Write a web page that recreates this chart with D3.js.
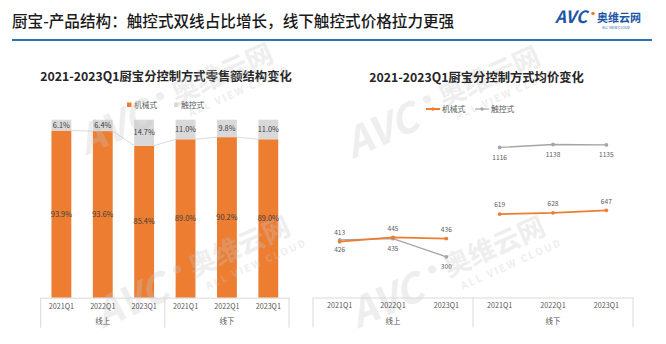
<!DOCTYPE html>
<html>
<head>
<meta charset="utf-8">
<script src="https://cdn.jsdelivr.net/npm/d3@7/dist/d3.min.js"></script>
<style>
  html, body { margin: 0; padding: 0; background: #fff; }
  svg { display: block; }
  text { font-family: "Noto Sans CJK SC", "Noto Sans", sans-serif; }
</style>
</head>
<body>
<svg id="chart" width="666" height="344"></svg>
<script>
// ---- data ----
const groups = ["线上", "线下"];
const periods = ["2021Q1", "2022Q1", "2023Q1"];
const seriesNames = ["机械式", "触控式"];

// retail sales share (%) by control type, online then offline
const shareMech  = [93.9, 93.6, 85.4, 89.0, 90.2, 89.0];
const shareTouch = [6.1, 6.4, 14.7, 11.0, 9.8, 11.0];

// average price (yuan) by control type, online then offline
const priceMech  = [413, 445, 436, 619, 628, 647];
const priceTouch = [426, 435, 300, 1116, 1138, 1135];

const orange = "#ed7d31";
const grey = "#d9d9d9";
const greyLine = "#a5a5a5";
const textDark = "#404040";
const textAxis = "#595959";

const cats = [];
groups.forEach(g => periods.forEach(p => cats.push({ key: g + "|" + p, group: g, period: p })));
const keys = cats.map(c => c.key);

const svg = d3.select("#chart");

// ---- faint brand watermark tiles ----
function watermark(ox, oy) {
  const g = svg.append("g")
    .attr("transform", `translate(${ox},${oy}) rotate(-24)`)
    .attr("fill", "#c8c8c8").attr("opacity", 0.3).attr("pointer-events", "none");
  g.append("text").attr("x", 0).attr("y", 14)
    .attr("font-family", "Liberation Sans, Arial, sans-serif")
    .attr("font-size", 40).attr("font-weight", 700).attr("font-style", "italic").text("AVC");
  g.append("circle").attr("cx", 92).attr("cy", -10).attr("r", 4);
  g.append("text").attr("x", 104).attr("y", 4)
    .attr("font-size", 27).attr("font-weight", 700).text("奥维云网");
  g.append("text").attr("x", 112).attr("y", 21)
    .attr("font-family", "Liberation Sans, Arial, sans-serif")
    .attr("font-size", 10).attr("font-weight", 700).attr("letter-spacing", 2).text("ALL VIEW CLOUD");
  return g;
}

// ---- page header ----
svg.append("text")
  .attr("x", 12).attr("y", 27)
  .attr("font-size", 15.6).attr("font-weight", 500).attr("fill", "#1a1a1a")
  .text("厨宝-产品结构：触控式双线占比增长，线下触控式价格拉力更强");

svg.append("line")
  .attr("x1", 12).attr("x2", 652).attr("y1", 40).attr("y2", 40)
  .attr("stroke", "#2f75b5").attr("stroke-width", 2);

// brand mark
const logo = svg.append("g");
logo.append("text").attr("x", 555).attr("y", 23)
  .attr("font-family", "Liberation Sans, Arial, sans-serif")
  .attr("font-size", 17).attr("font-weight", 700).attr("font-style", "italic")
  .attr("fill", "#1d56a5").text("AVC");
logo.append("circle").attr("cx", 593).attr("cy", 13.5).attr("r", 1.8).attr("fill", orange);
logo.append("text").attr("x", 597).attr("y", 22)
  .attr("font-size", 11).attr("font-weight", 700).attr("fill", "#1d56a5").text("奥维云网");
logo.append("text").attr("x", 602).attr("y", 28.5)
  .attr("font-family", "Liberation Sans, Arial, sans-serif")
  .attr("font-size", 3.6).attr("fill", "#1d56a5").text("ALL VIEW CLOUD");

// ---- helper: category axis with group dividers ----
function categoryAxis(x, y0, catY, groupY) {
  const g = svg.append("g").attr("transform", `translate(0,${y0})`);
  const ax = d3.axisBottom(x).tickSize(0).tickPadding(0).tickFormat(k => k.split("|")[1]);
  g.call(ax);
  g.select(".domain").attr("stroke", "#d9d9d9").attr("stroke-width", 1);
  g.selectAll(".tick text")
    .attr("y", catY).attr("dy", "0.35em")
    .attr("font-family", "Liberation Sans, Arial, sans-serif")
    .attr("font-size", 7.2).attr("fill", textAxis);
  const [r0] = x.range();
  const dividers = [r0];
  groups.forEach(gr => {
    const last = x(gr + "|" + periods[periods.length - 1]) + x.step() - x.step() * x.paddingInner() / 2;
    dividers.push(last);
  });
  g.selectAll("line.div").data(dividers).join("line").attr("class", "div")
    .attr("x1", d => d).attr("x2", d => d).attr("y1", 0).attr("y2", 30)
    .attr("stroke", "#d9d9d9").attr("stroke-width", 1);
  groups.forEach(gr => {
    const a = x(gr + "|" + periods[0]);
    const b = x(gr + "|" + periods[periods.length - 1]) + x.bandwidth();
    g.append("text").attr("x", (a + b) / 2).attr("y", groupY).attr("dy", "0.35em")
      .attr("text-anchor", "middle").attr("font-size", 7.5).attr("fill", textAxis).text(gr);
  });
}

// ---- left: stacked share bars ----
const xL = d3.scaleBand().domain(keys).range([40.7, 289]).paddingInner(0.52).paddingOuter(0.26);
const yL = d3.scaleLinear().domain([0, 100]).range([297.7, 119.7]);

svg.append("text").attr("x", 166).attr("y", 77).attr("dy", "0.35em")
  .attr("text-anchor", "middle").attr("font-size", 12.3).attr("font-weight", 700).attr("fill", "#262626")
  .text("2021-2023Q1厨宝分控制方式零售额结构变化");

// legend
const legL = svg.append("g");
[[seriesNames[0], orange, 127], [seriesNames[1], grey, 174]].forEach(([name, col, lx]) => {
  legL.append("rect").attr("x", lx).attr("y", 102.5).attr("width", 4.5).attr("height", 4.5).attr("fill", col);
  legL.append("text").attr("x", lx + 7).attr("y", 105).attr("dy", "0.35em")
    .attr("font-size", 7.8).attr("fill", textAxis).text(name);
});

const stackData = keys.map((k, i) => ({ key: k, mech: shareMech[i], touch: shareTouch[i] }));
const stacked = d3.stack().keys(["mech", "touch"])(stackData);

// series lines between orange tops
const seriesLine = svg.append("g");
for (let i = 0; i < keys.length - 1; i++) {
  seriesLine.append("line")
    .attr("x1", xL(keys[i]) + xL.bandwidth()).attr("y1", yL(shareMech[i]))
    .attr("x2", xL(keys[i + 1])).attr("y2", yL(shareMech[i + 1]))
    .attr("stroke", "#d0d0d0").attr("stroke-width", 0.8);
}

const colors = { mech: orange, touch: grey };
stacked.forEach(layer => {
  svg.append("g").selectAll("rect").data(layer).join("rect")
    .attr("x", d => xL(d.data.key)).attr("width", xL.bandwidth())
    .attr("y", d => yL(Math.min(d[1], 100))).attr("height", d => yL(d[0]) - yL(Math.min(d[1], 100)))
    .attr("fill", colors[layer.key]);
});

// watermark tiles sit over the bars, under the text
[[80, 143], [347, 146], [97, 316], [352, 316]].forEach(([x, y]) => watermark(x, y));

stacked.forEach(layer => {
  svg.append("g").selectAll("text").data(layer).join("text")
    .attr("x", d => xL(d.data.key) + xL.bandwidth() / 2)
    .attr("y", d => (yL(d[0]) + yL(Math.min(d[1], 100))) / 2).attr("dy", "0.35em")
    .attr("text-anchor", "middle")
    .attr("font-family", "DejaVu Sans Mono, monospace")
    .attr("font-size", 7.4).attr("fill", textDark)
    .text(d => d.data[layer.key].toFixed(1) + "%");
});

categoryAxis(xL, 297.7, 9, 24);

// ---- right: average price lines ----
const xR = d3.scaleBand().domain(keys).range([313, 633]);
const yR = d3.scaleLinear().domain([0, 1400]).range([297, 109.4]);
const cx = k => xR(k) + xR.bandwidth() / 2;

svg.append("text").attr("x", 476.5).attr("y", 78).attr("dy", "0.35em")
  .attr("text-anchor", "middle").attr("font-size", 12.3).attr("font-weight", 700).attr("fill", "#262626")
  .text("2021-2023Q1厨宝分控制方式均价变化");

const legR = svg.append("g");
[[seriesNames[0], orange, 426, 2], [seriesNames[1], greyLine, 475, 1.2]].forEach(([name, col, lx, w]) => {
  legR.append("line").attr("x1", lx).attr("x2", lx + 14).attr("y1", 109).attr("y2", 109)
    .attr("stroke", col).attr("stroke-width", w);
  legR.append("circle").attr("cx", lx + 7).attr("cy", 109).attr("r", 1.7).attr("fill", col);
  legR.append("text").attr("x", lx + 16).attr("y", 109).attr("dy", "0.35em")
    .attr("font-size", 7.8).attr("fill", textAxis).text(name);
});

const line = d3.line().x(d => cx(d.key)).y(d => yR(d.v));
function drawSeries(vals, col, width, labelDy) {
  groups.forEach((gr, gi) => {
    const pts = periods.map((p, pi) => ({ key: gr + "|" + p, v: vals[gi * periods.length + pi] }));
    const g = svg.append("g");
    g.append("path").datum(pts).attr("d", line)
      .attr("fill", "none").attr("stroke", col).attr("stroke-width", width);
    g.selectAll("circle").data(pts).join("circle")
      .attr("cx", d => cx(d.key)).attr("cy", d => yR(d.v)).attr("r", 1.9).attr("fill", col);
    g.selectAll("text").data(pts).join("text")
      .attr("x", d => cx(d.key)).attr("y", d => yR(d.v) + labelDy).attr("dy", "0.35em")
      .attr("text-anchor", "middle")
      .attr("font-family", "Liberation Sans, Arial, sans-serif")
      .attr("font-size", 6.6).attr("fill", textAxis).text(d => d.v);
  });
}
drawSeries(priceTouch, greyLine, 1.3, 10);
drawSeries(priceMech, orange, 1.8, -9);

categoryAxis(xR, 297.5, 8, 24);
</script>
</body>
</html>
